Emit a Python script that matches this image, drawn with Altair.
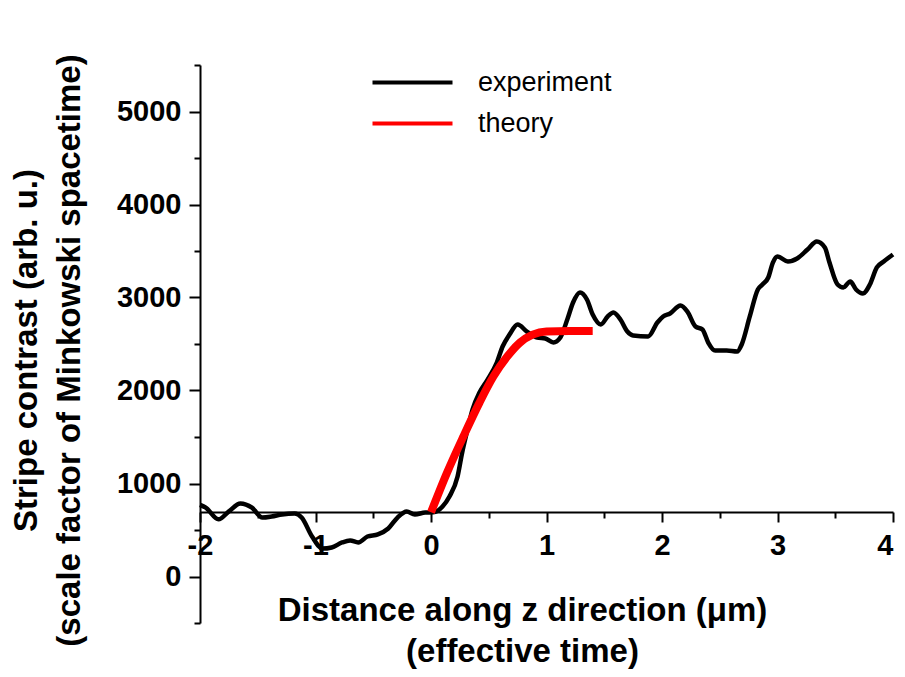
import altair as alt
import pandas as pd

# ---------------- data ----------------
exp_x = [-2.00, -1.95, -1.84, -1.75, -1.65, -1.55, -1.46, -1.38, -1.29, -1.18,
         -1.12, -1.03, -0.94, -0.86, -0.77, -0.70, -0.63, -0.55, -0.46, -0.37,
         -0.29, -0.21, -0.14, -0.05, 0.02, 0.10, 0.16, 0.23, 0.27, 0.31,
         0.36, 0.42, 0.49, 0.57, 0.62, 0.68, 0.75, 0.83, 0.92, 0.99,
         1.06, 1.12, 1.18, 1.23, 1.29, 1.35, 1.40, 1.47, 1.53, 1.58,
         1.64, 1.70, 1.75, 1.88, 1.96, 2.01, 2.07, 2.16, 2.22, 2.29,
         2.35, 2.40, 2.46, 2.56, 2.65, 2.69, 2.76, 2.83, 2.87, 2.92,
         2.96, 3.00, 3.09, 3.17, 3.26, 3.34, 3.41, 3.45, 3.52, 3.57,
         3.63, 3.68, 3.74, 3.80, 3.86, 3.92, 4.00]
exp_y = [770, 740, 615, 700, 785, 740, 634, 645, 667, 677,
         634, 430, 300, 312, 366, 387, 366, 430, 452, 516,
         634, 699, 667, 688, 690, 753, 860, 1075, 1333, 1548,
         1796, 1978, 2118, 2301, 2473, 2602, 2710, 2634, 2570, 2559,
         2516, 2570, 2763, 2946, 3054, 2978, 2817, 2710, 2796, 2839,
         2763, 2634, 2591, 2581, 2731, 2796, 2828, 2914, 2849, 2688,
         2656, 2516, 2430, 2430, 2419, 2495, 2796, 3086, 3140, 3215,
         3376, 3441, 3387, 3419, 3516, 3602, 3538, 3376, 3140, 3108,
         3172, 3086, 3043, 3140, 3323, 3387, 3462]

theory_x = [0.00, 0.14, 0.28, 0.42, 0.54, 0.66, 0.77, 0.88, 1.00, 1.20, 1.40]
theory_y = [690, 1120, 1505, 1870, 2150, 2365, 2515, 2600, 2635, 2640, 2640]

series_names = ["experiment", "theory"]
series_colors = ["#000000", "#ff0000"]

x_ticks = [-2, -1.5, -1, -0.5, 0, 0.5, 1, 1.5, 2, 2.5, 3, 3.5, 4]
y_ticks = [-500, 0, 500, 1000, 1500, 2000, 2500, 3000, 3500, 4000, 4500, 5000, 5500]

x_title = ["Distance along z direction (\u03bcm)", "(effective time)"]
y_title = ["Stripe contrast (arb. u.)", "(scale factor of Minkowski spacetime)"]

# ---------------- chart ----------------
exp_df = pd.DataFrame({"x": exp_x, "y": exp_y, "series": series_names[0]})
th_df = pd.DataFrame({"x": theory_x, "y": theory_y, "series": series_names[1]})

FONT = "Liberation Sans"

x_axis = alt.Axis(
    values=x_ticks,
    offset=-111,
    grid=False,
    domainColor="black", domainWidth=2,
    tickColor="black", tickWidth=2,
    tickSize={"condition": {"test": "datum.value % 1 !== 0", "value": 6}, "value": 10},
    labelExpr="datum.value % 1 === 0 ? (datum.value < 0 ? '-' + (-datum.value) : '' + datum.value) : ''",
    labelAlign={"condition": {"test": "datum.value >= 4", "value": "right"}, "value": "center"},
    labelFont=FONT, labelFontSize=29, labelFontWeight="bold", labelColor="black",
    labelPadding=9, labelFlush=False, labelOverlap=False,
    title=x_title, titleFont=FONT, titleFontSize=33, titleFontWeight="bold",
    titleColor="black", titleX=322, titleY=108, titleAlign="center",
    titleBaseline="alphabetic", titleLineHeight=41,
)

y_axis = alt.Axis(
    values=y_ticks,
    grid=False,
    domainColor="black", domainWidth=2,
    tickColor="black", tickWidth=2,
    tickSize={"condition": {"test": "datum.value % 1000 !== 0", "value": 6}, "value": 11},
    format="d",
    labelExpr="datum.value % 1000 === 0 ? '' + datum.value : ''",
    labelFont=FONT, labelFontSize=29, labelFontWeight="bold", labelColor="black",
    labelPadding=8, labelFlush=False, labelOverlap=False,
    title=y_title, titleFont=FONT, titleFontSize=33, titleFontWeight="bold",
    titleColor="black", titleX=-164, titleY=285, titleAngle=270, titleAlign="center",
    titleBaseline="alphabetic", titleLineHeight=43,
)

legend = alt.Legend(
    orient="none", legendX=199, legendY=4, title=None,
    symbolType="M-4,0H4", symbolSize=400, symbolStrokeWidth=4,
    labelFont=FONT, labelFontSize=27, labelColor="black", labelOffset=52,
    rowPadding=13, padding=0,
)

x_enc = alt.X("x:Q", scale=alt.Scale(domain=[-2, 4], nice=False, zero=False), axis=x_axis)
y_enc = alt.Y("y:Q", scale=alt.Scale(domain=[-500, 5500], nice=False, zero=False), axis=y_axis)
c_enc = alt.Color("series:N", scale=alt.Scale(domain=series_names, range=series_colors), legend=legend)

exp_line = alt.Chart(exp_df).mark_line(strokeWidth=4.5, interpolate="monotone").encode(
    x=x_enc, y=y_enc, color=c_enc
)
th_line = alt.Chart(th_df).mark_line(strokeWidth=8, interpolate="monotone", strokeCap="butt").encode(
    x=x_enc, y=y_enc, color=c_enc
)

chart = alt.layer(exp_line, th_line).properties(
    width=693, height=558,
    background="white",
    autosize=alt.AutoSizeParams(type="none"),
    padding={"left": 192, "top": 57, "right": 4, "bottom": 46},
).configure_view(stroke=None)

chart.save("out.html", embed_options={"renderer": "svg", "actions": False})
